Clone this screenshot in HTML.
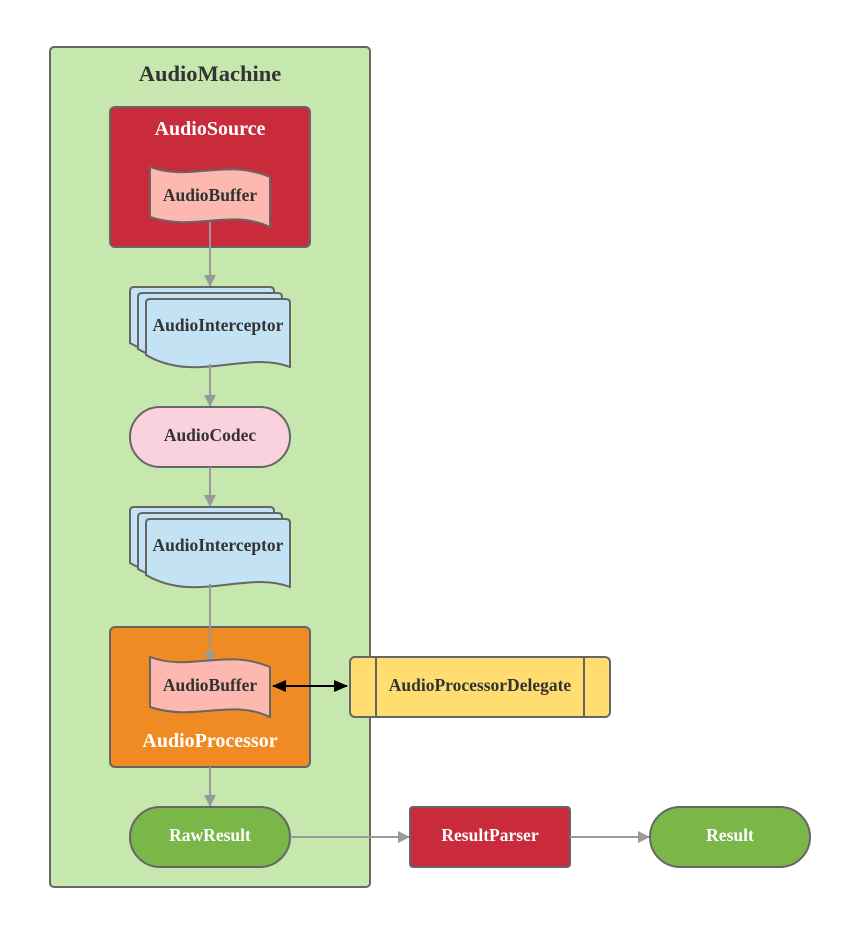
<!DOCTYPE html>
<html><head><meta charset="utf-8"><style>html,body{margin:0;padding:0;background:#fff}svg{display:block}</style></head><body>
<svg width="850" height="927" viewBox="0 0 850 927" xmlns="http://www.w3.org/2000/svg" font-family="'Liberation Serif', serif" font-weight="bold">
<defs>
<marker id="ag" markerWidth="12" markerHeight="12" refX="11" refY="6" orient="auto" markerUnits="userSpaceOnUse"><path d="M0,0 L12,6 L0,12 Z" fill="#999"/></marker>
<marker id="ab" markerWidth="14" markerHeight="12" refX="13" refY="6" orient="auto" markerUnits="userSpaceOnUse"><path d="M0,0 L14,6 L0,12 Z" fill="#000"/></marker>
<marker id="abs" markerWidth="14" markerHeight="12" refX="1" refY="6" orient="auto" markerUnits="userSpaceOnUse"><path d="M14,0 L0,6 L14,12 Z" fill="#000"/></marker>
</defs>
<rect x="50" y="47" width="320" height="840" rx="4" fill="#c6e7ad" stroke="#666" stroke-width="2"/>
<text x="210" y="81" font-size="22.5" fill="#333" text-anchor="middle">AudioMachine</text>

<rect x="110" y="107" width="200" height="140" rx="5" fill="#c92b3b" stroke="#666" stroke-width="2"/>
<text x="210" y="135" font-size="20" fill="#fff" text-anchor="middle">AudioSource</text>
<path d="M150,167 C190,182 225,158 270,177 L270,227 C230,208 195,232 150,217 Z" fill="#fdb8b0" stroke="#666" stroke-width="2"/>
<text x="210" y="201" font-size="17.5" fill="#333" text-anchor="middle">AudioBuffer</text>

<line x1="210" y1="222" x2="210" y2="286" stroke="#999" stroke-width="2" marker-end="url(#ag)"/>

<g id="ic">
<path d="M130,291 Q130,287 134,287 L270,287 Q274,287 274,291 L274,352 C230,338 180,372 130,343 Z" fill="#c3e3f5" stroke="#666" stroke-width="2"/>
<path d="M138,297 Q138,293 142,293 L278,293 Q282,293 282,297 L282,358 C238,344 188,378 138,349 Z" fill="#c3e3f5" stroke="#666" stroke-width="2"/>
<path d="M146,303 Q146,299 150,299 L286,299 Q290,299 290,303 L290,367 C246,350 196,384 146,355 Z" fill="#c3e3f5" stroke="#666" stroke-width="2"/>
<text x="218" y="331" font-size="17.5" fill="#333" text-anchor="middle">AudioInterceptor</text>
</g>
<line x1="210" y1="364" x2="210" y2="406" stroke="#999" stroke-width="2" marker-end="url(#ag)"/>
<rect x="130" y="407" width="160" height="60" rx="30" fill="#f9d2de" stroke="#666" stroke-width="2"/>
<text x="210" y="441" font-size="17.5" fill="#333" text-anchor="middle">AudioCodec</text>
<line x1="210" y1="467" x2="210" y2="506" stroke="#999" stroke-width="2" marker-end="url(#ag)"/>
<use href="#ic" y="220"/>

<rect x="110" y="627" width="200" height="140" rx="5" fill="#ef8b22" stroke="#666" stroke-width="2"/>
<line x1="210" y1="584" x2="210" y2="663" stroke="#999" stroke-width="2" marker-end="url(#ag)"/>
<path d="M150,657 C190,672 225,648 270,667 L270,717 C230,698 195,722 150,707 Z" fill="#fdb8b0" stroke="#666" stroke-width="2"/>
<text x="210" y="691" font-size="17.5" fill="#333" text-anchor="middle">AudioBuffer</text>
<text x="210" y="747" font-size="20" fill="#fff" text-anchor="middle">AudioProcessor</text>
<line x1="273" y1="686" x2="347" y2="686" stroke="#000" stroke-width="2" marker-start="url(#abs)" marker-end="url(#ab)"/>

<rect x="350" y="657" width="260" height="60" rx="5" fill="#ffdd71" stroke="#666" stroke-width="2"/>
<line x1="376" y1="657" x2="376" y2="717" stroke="#666" stroke-width="2"/>
<line x1="584" y1="657" x2="584" y2="717" stroke="#666" stroke-width="2"/>
<text x="480" y="691" font-size="17.5" fill="#333" text-anchor="middle">AudioProcessorDelegate</text>

<line x1="210" y1="767" x2="210" y2="806" stroke="#999" stroke-width="2" marker-end="url(#ag)"/>
<rect x="130" y="807" width="160" height="60" rx="30" fill="#7ab648" stroke="#666" stroke-width="2"/>
<text x="210" y="841" font-size="17.5" fill="#fff" text-anchor="middle">RawResult</text>
<line x1="290" y1="837" x2="409" y2="837" stroke="#999" stroke-width="2" marker-end="url(#ag)"/>
<rect x="410" y="807" width="160" height="60" rx="3" fill="#c92b3b" stroke="#666" stroke-width="2"/>
<text x="490" y="841" font-size="17.5" fill="#fff" text-anchor="middle">ResultParser</text>
<line x1="570" y1="837" x2="649" y2="837" stroke="#999" stroke-width="2" marker-end="url(#ag)"/>
<rect x="650" y="807" width="160" height="60" rx="30" fill="#7ab648" stroke="#666" stroke-width="2"/>
<text x="730" y="841" font-size="17.5" fill="#fff" text-anchor="middle">Result</text>
</svg>
</body></html>
